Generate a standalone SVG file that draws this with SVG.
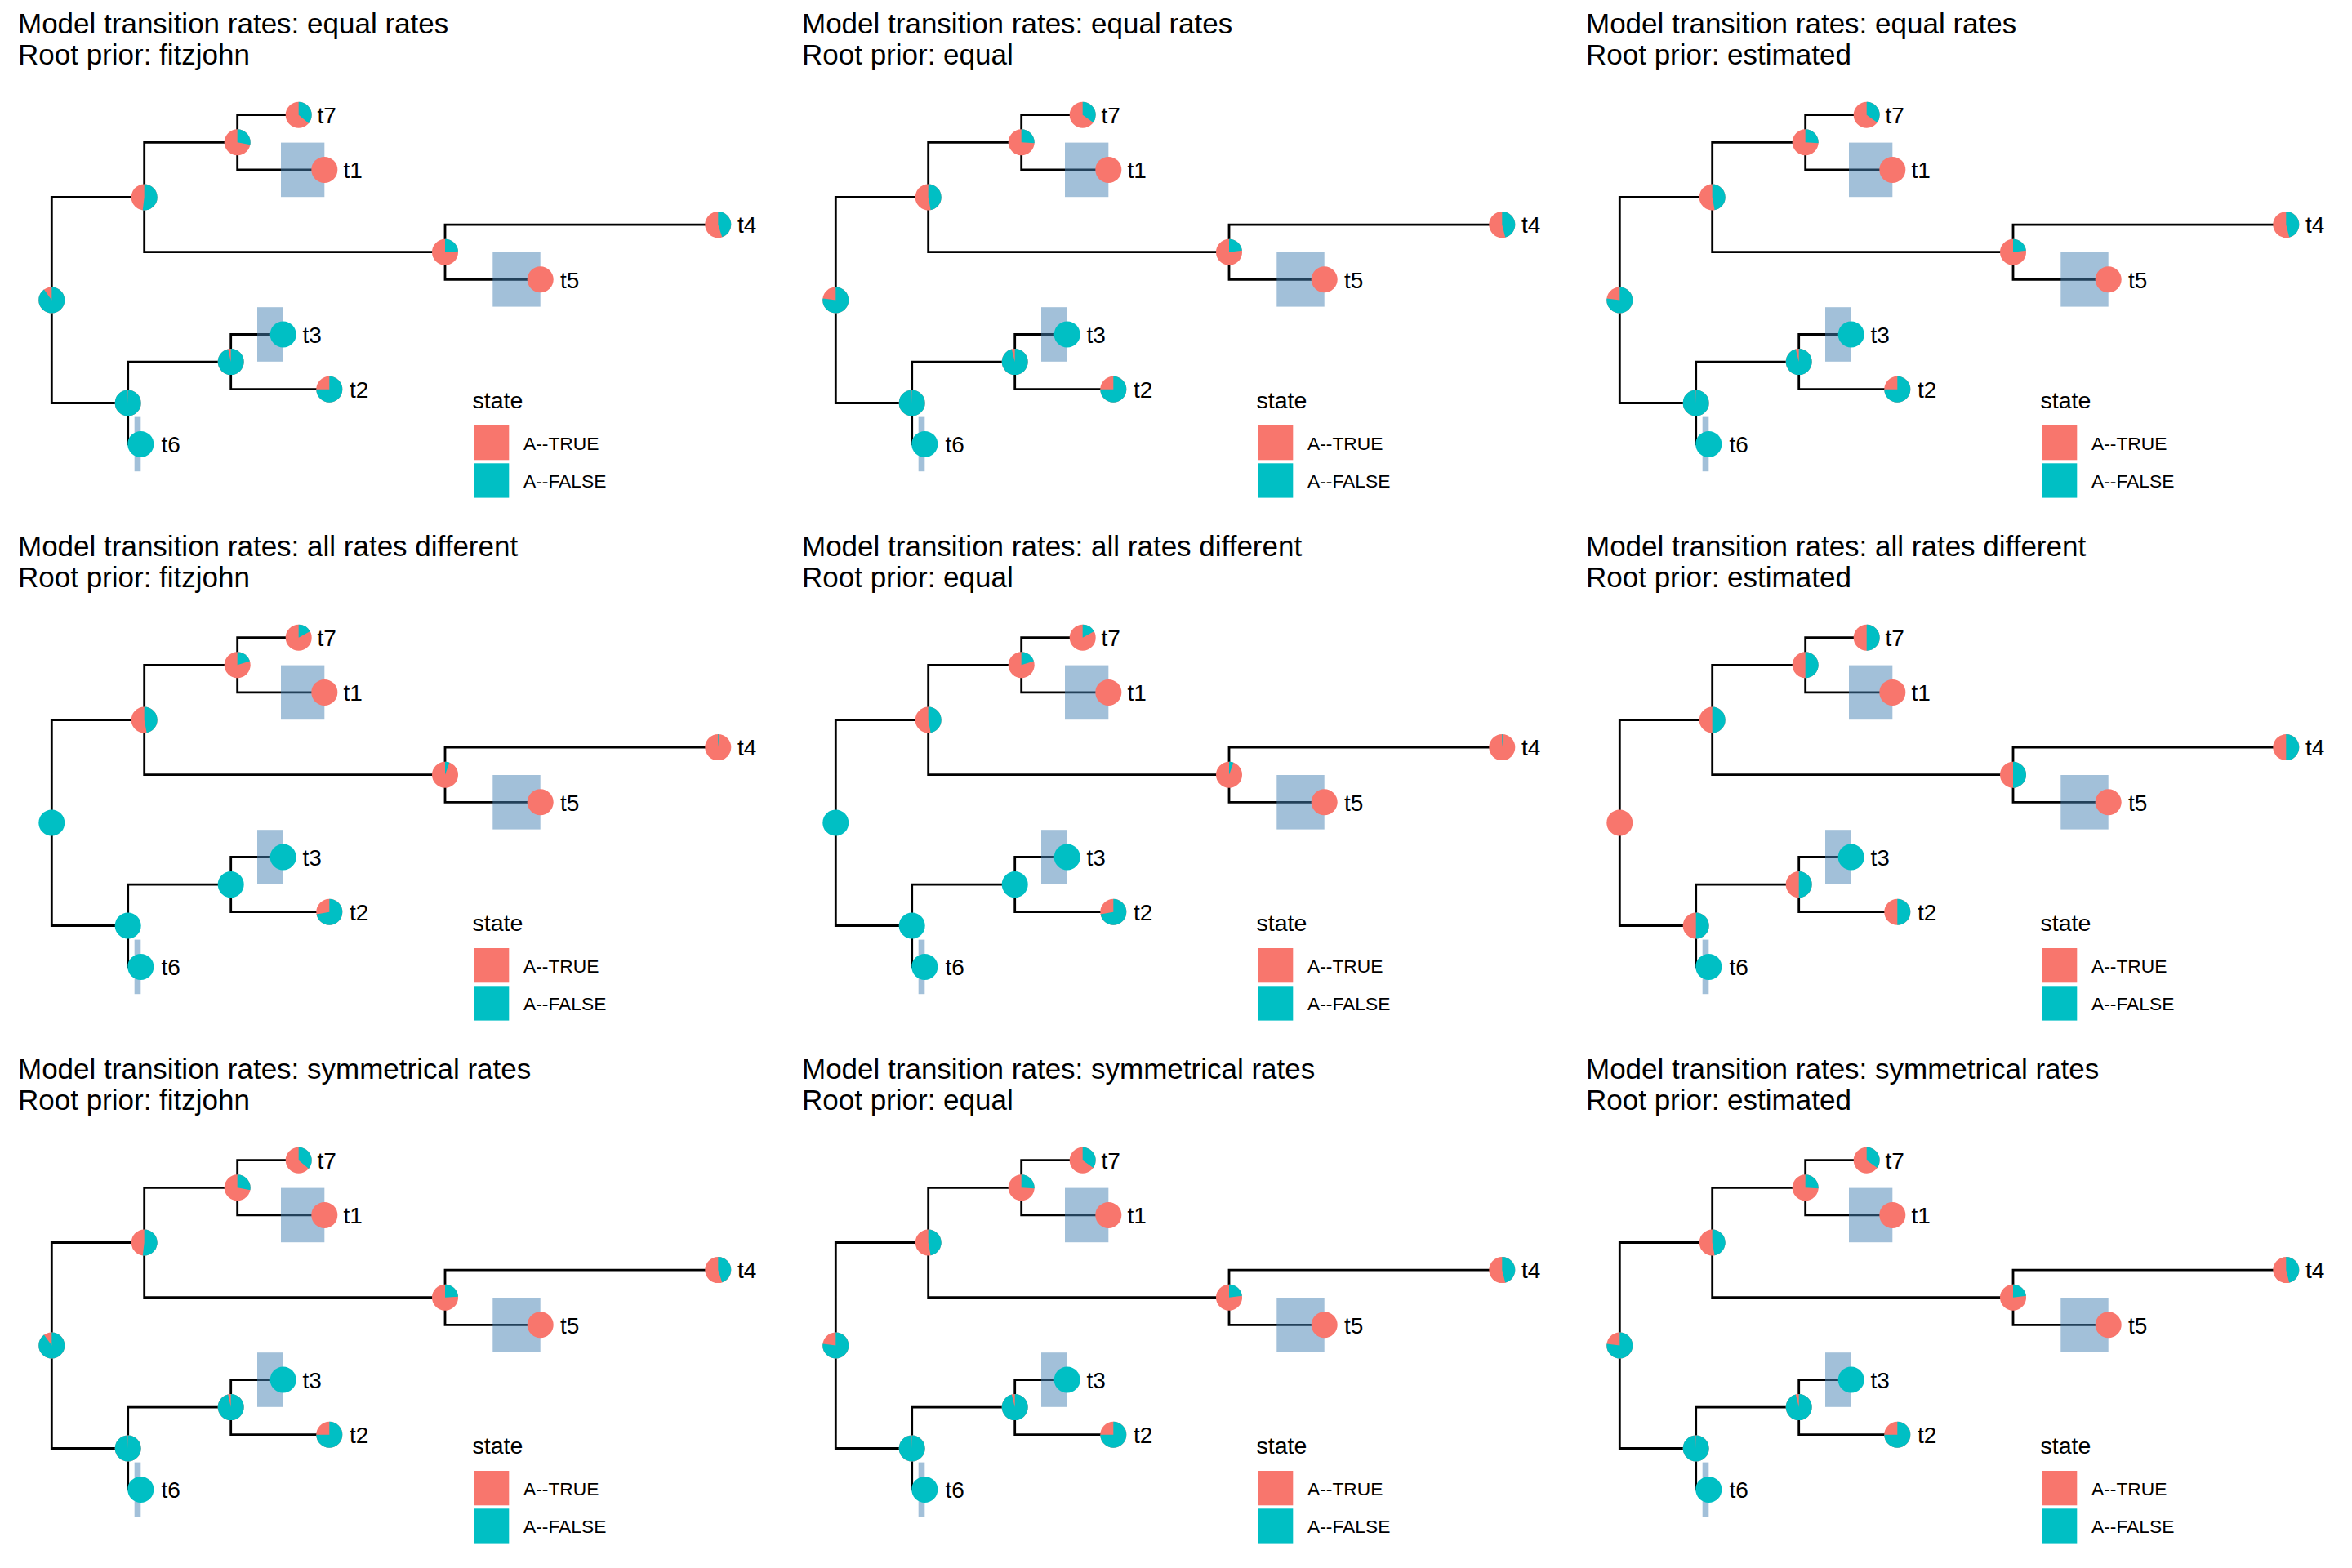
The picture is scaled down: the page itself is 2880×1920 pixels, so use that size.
<svg xmlns="http://www.w3.org/2000/svg" width="2880" height="1920" viewBox="0 0 2880 1920">
<style>
text{font-family:"Liberation Sans",Arial,Helvetica,sans-serif;fill:#000}
.ttl{font-size:35px}
.tip{font-size:28px}
.lgt{font-size:28.5px}
.lgl{font-size:22.8px}
.br{fill:none;stroke:#000;stroke-width:2.8}
.hl{fill:#4682B4;fill-opacity:0.5}
.pk{fill:#F8766D}
.tl{fill:#00BFC4}
.wd{fill:none;stroke:#00BFC4;stroke-width:16}
</style>
<rect width="2880" height="1920" fill="#fff"/>

<!-- Panel 1 -->
<g id="panel1" transform="translate(0,0)">
<text class="ttl" x="22" y="40.7">Model transition rates: equal rates</text>
<text class="ttl" x="22" y="79">Root prior: fitzjohn</text>
<g id="p1-edges"><path class="br" d="M176.7,241.5H63.3V493.5H156.7M290.7,174.3H176.7V308.7H545M365.7,140.7H290.7V207.9H397.3M879.3,275.1H545V342.3H661.7M282.7,443.1H156.7V543.9H172.3M346.7,409.5H282.7V476.7H403.3"/></g>
<g id="p1-hl"><rect class="hl" x="344" y="174.6" width="53.3" height="66.6"/><rect class="hl" x="603.3" y="309" width="58.4" height="66.6"/><rect class="hl" x="315" y="376.2" width="31.7" height="66.6"/><rect class="hl" x="164.7" y="510.6" width="7.6" height="66.6"/></g>
<g id="p1-R" transform="translate(63.3,367.5)"><circle class="pk" r="16"/><circle class="wd" r="8" pathLength="100" stroke-dasharray="90 100" transform="rotate(-90)"/></g>
<g id="p1-A" transform="translate(176.7,241.5)"><circle class="pk" r="16"/><circle class="wd" r="8" pathLength="100" stroke-dasharray="52 100" transform="rotate(-90)"/></g>
<g id="p1-C" transform="translate(290.7,174.3)"><circle class="pk" r="16"/><circle class="wd" r="8" pathLength="100" stroke-dasharray="28 100" transform="rotate(-90)"/></g>
<g id="p1-D" transform="translate(545,308.7)"><circle class="pk" r="16"/><circle class="wd" r="8" pathLength="100" stroke-dasharray="24 100" transform="rotate(-90)"/></g>
<g id="p1-B" transform="translate(156.7,493.5)"><circle class="pk" r="16"/><circle class="wd" r="8" pathLength="100" stroke-dasharray="99.5 100" transform="rotate(-90)"/></g>
<g id="p1-E" transform="translate(282.7,443.1)"><circle class="pk" r="16"/><circle class="wd" r="8" pathLength="100" stroke-dasharray="96.5 100" transform="rotate(-90)"/></g>
<g id="p1-t7"><g transform="translate(365.7,140.7)"><circle class="pk" r="16"/><circle class="wd" r="8" pathLength="100" stroke-dasharray="36 100" transform="rotate(-90)"/></g><text class="tip" x="388.5" y="151">t7</text></g>
<g id="p1-t1"><circle class="pk" cx="397.3" cy="207.9" r="16"/><text class="tip" x="420.5" y="218">t1</text></g>
<g id="p1-t4"><g transform="translate(879.3,275.1)"><circle class="pk" r="16"/><circle class="wd" r="8" pathLength="100" stroke-dasharray="45 100" transform="rotate(-90)"/></g><text class="tip" x="903" y="285.3">t4</text></g>
<g id="p1-t5"><circle class="pk" cx="661.7" cy="342.3" r="16"/><text class="tip" x="686" y="352.5">t5</text></g>
<g id="p1-t3"><circle class="tl" cx="346.7" cy="409.5" r="16"/><text class="tip" x="370.5" y="419.5">t3</text></g>
<g id="p1-t2"><g transform="translate(403.3,476.7)"><circle class="pk" r="16"/><circle class="wd" r="8" pathLength="100" stroke-dasharray="75 100" transform="rotate(-90)"/></g><text class="tip" x="428" y="486.8">t2</text></g>
<g id="p1-t6"><circle class="tl" cx="172.3" cy="543.9" r="16"/><text class="tip" x="197.5" y="554">t6</text></g>
<g id="p1-legend"><text class="lgt" x="578.5" y="500">state</text><rect class="pk" x="581" y="521" width="42.3" height="42.3"/><rect class="tl" x="581" y="567.3" width="42.3" height="42.3"/><text class="lgl" x="641" y="551">A--TRUE</text><text class="lgl" x="641" y="596.7">A--FALSE</text></g>
</g>

<!-- Panel 2 -->
<g id="panel2" transform="translate(960,0)">
<text class="ttl" x="22" y="40.7">Model transition rates: equal rates</text>
<text class="ttl" x="22" y="79">Root prior: equal</text>
<g id="p2-edges"><path class="br" d="M176.7,241.5H63.3V493.5H156.7M290.7,174.3H176.7V308.7H545M365.7,140.7H290.7V207.9H397.3M879.3,275.1H545V342.3H661.7M282.7,443.1H156.7V543.9H172.3M346.7,409.5H282.7V476.7H403.3"/></g>
<g id="p2-hl"><rect class="hl" x="344" y="174.6" width="53.3" height="66.6"/><rect class="hl" x="603.3" y="309" width="58.4" height="66.6"/><rect class="hl" x="315" y="376.2" width="31.7" height="66.6"/><rect class="hl" x="164.7" y="510.6" width="7.6" height="66.6"/></g>
<g id="p2-R" transform="translate(63.3,367.5)"><circle class="pk" r="16"/><circle class="wd" r="8" pathLength="100" stroke-dasharray="77 100" transform="rotate(-90)"/></g>
<g id="p2-A" transform="translate(176.7,241.5)"><circle class="pk" r="16"/><circle class="wd" r="8" pathLength="100" stroke-dasharray="47 100" transform="rotate(-90)"/></g>
<g id="p2-C" transform="translate(290.7,174.3)"><circle class="pk" r="16"/><circle class="wd" r="8" pathLength="100" stroke-dasharray="26 100" transform="rotate(-90)"/></g>
<g id="p2-D" transform="translate(545,308.7)"><circle class="pk" r="16"/><circle class="wd" r="8" pathLength="100" stroke-dasharray="23 100" transform="rotate(-90)"/></g>
<g id="p2-B" transform="translate(156.7,493.5)"><circle class="pk" r="16"/><circle class="wd" r="8" pathLength="100" stroke-dasharray="99.5 100" transform="rotate(-90)"/></g>
<g id="p2-E" transform="translate(282.7,443.1)"><circle class="pk" r="16"/><circle class="wd" r="8" pathLength="100" stroke-dasharray="96 100" transform="rotate(-90)"/></g>
<g id="p2-t7"><g transform="translate(365.7,140.7)"><circle class="pk" r="16"/><circle class="wd" r="8" pathLength="100" stroke-dasharray="35 100" transform="rotate(-90)"/></g><text class="tip" x="388.5" y="151">t7</text></g>
<g id="p2-t1"><circle class="pk" cx="397.3" cy="207.9" r="16"/><text class="tip" x="420.5" y="218">t1</text></g>
<g id="p2-t4"><g transform="translate(879.3,275.1)"><circle class="pk" r="16"/><circle class="wd" r="8" pathLength="100" stroke-dasharray="46 100" transform="rotate(-90)"/></g><text class="tip" x="903" y="285.3">t4</text></g>
<g id="p2-t5"><circle class="pk" cx="661.7" cy="342.3" r="16"/><text class="tip" x="686" y="352.5">t5</text></g>
<g id="p2-t3"><circle class="tl" cx="346.7" cy="409.5" r="16"/><text class="tip" x="370.5" y="419.5">t3</text></g>
<g id="p2-t2"><g transform="translate(403.3,476.7)"><circle class="pk" r="16"/><circle class="wd" r="8" pathLength="100" stroke-dasharray="75 100" transform="rotate(-90)"/></g><text class="tip" x="428" y="486.8">t2</text></g>
<g id="p2-t6"><circle class="tl" cx="172.3" cy="543.9" r="16"/><text class="tip" x="197.5" y="554">t6</text></g>
<g id="p2-legend"><text class="lgt" x="578.5" y="500">state</text><rect class="pk" x="581" y="521" width="42.3" height="42.3"/><rect class="tl" x="581" y="567.3" width="42.3" height="42.3"/><text class="lgl" x="641" y="551">A--TRUE</text><text class="lgl" x="641" y="596.7">A--FALSE</text></g>
</g>

<!-- Panel 3 -->
<g id="panel3" transform="translate(1920,0)">
<text class="ttl" x="22" y="40.7">Model transition rates: equal rates</text>
<text class="ttl" x="22" y="79">Root prior: estimated</text>
<g id="p3-edges"><path class="br" d="M176.7,241.5H63.3V493.5H156.7M290.7,174.3H176.7V308.7H545M365.7,140.7H290.7V207.9H397.3M879.3,275.1H545V342.3H661.7M282.7,443.1H156.7V543.9H172.3M346.7,409.5H282.7V476.7H403.3"/></g>
<g id="p3-hl"><rect class="hl" x="344" y="174.6" width="53.3" height="66.6"/><rect class="hl" x="603.3" y="309" width="58.4" height="66.6"/><rect class="hl" x="315" y="376.2" width="31.7" height="66.6"/><rect class="hl" x="164.7" y="510.6" width="7.6" height="66.6"/></g>
<g id="p3-R" transform="translate(63.3,367.5)"><circle class="pk" r="16"/><circle class="wd" r="8" pathLength="100" stroke-dasharray="77 100" transform="rotate(-90)"/></g>
<g id="p3-A" transform="translate(176.7,241.5)"><circle class="pk" r="16"/><circle class="wd" r="8" pathLength="100" stroke-dasharray="47 100" transform="rotate(-90)"/></g>
<g id="p3-C" transform="translate(290.7,174.3)"><circle class="pk" r="16"/><circle class="wd" r="8" pathLength="100" stroke-dasharray="26 100" transform="rotate(-90)"/></g>
<g id="p3-D" transform="translate(545,308.7)"><circle class="pk" r="16"/><circle class="wd" r="8" pathLength="100" stroke-dasharray="23 100" transform="rotate(-90)"/></g>
<g id="p3-B" transform="translate(156.7,493.5)"><circle class="pk" r="16"/><circle class="wd" r="8" pathLength="100" stroke-dasharray="99.5 100" transform="rotate(-90)"/></g>
<g id="p3-E" transform="translate(282.7,443.1)"><circle class="pk" r="16"/><circle class="wd" r="8" pathLength="100" stroke-dasharray="96 100" transform="rotate(-90)"/></g>
<g id="p3-t7"><g transform="translate(365.7,140.7)"><circle class="pk" r="16"/><circle class="wd" r="8" pathLength="100" stroke-dasharray="35 100" transform="rotate(-90)"/></g><text class="tip" x="388.5" y="151">t7</text></g>
<g id="p3-t1"><circle class="pk" cx="397.3" cy="207.9" r="16"/><text class="tip" x="420.5" y="218">t1</text></g>
<g id="p3-t4"><g transform="translate(879.3,275.1)"><circle class="pk" r="16"/><circle class="wd" r="8" pathLength="100" stroke-dasharray="46 100" transform="rotate(-90)"/></g><text class="tip" x="903" y="285.3">t4</text></g>
<g id="p3-t5"><circle class="pk" cx="661.7" cy="342.3" r="16"/><text class="tip" x="686" y="352.5">t5</text></g>
<g id="p3-t3"><circle class="tl" cx="346.7" cy="409.5" r="16"/><text class="tip" x="370.5" y="419.5">t3</text></g>
<g id="p3-t2"><g transform="translate(403.3,476.7)"><circle class="pk" r="16"/><circle class="wd" r="8" pathLength="100" stroke-dasharray="75 100" transform="rotate(-90)"/></g><text class="tip" x="428" y="486.8">t2</text></g>
<g id="p3-t6"><circle class="tl" cx="172.3" cy="543.9" r="16"/><text class="tip" x="197.5" y="554">t6</text></g>
<g id="p3-legend"><text class="lgt" x="578.5" y="500">state</text><rect class="pk" x="581" y="521" width="42.3" height="42.3"/><rect class="tl" x="581" y="567.3" width="42.3" height="42.3"/><text class="lgl" x="641" y="551">A--TRUE</text><text class="lgl" x="641" y="596.7">A--FALSE</text></g>
</g>

<!-- Panel 4 -->
<g id="panel4" transform="translate(0,640)">
<text class="ttl" x="22" y="40.7">Model transition rates: all rates different</text>
<text class="ttl" x="22" y="79">Root prior: fitzjohn</text>
<g id="p4-edges"><path class="br" d="M176.7,241.5H63.3V493.5H156.7M290.7,174.3H176.7V308.7H545M365.7,140.7H290.7V207.9H397.3M879.3,275.1H545V342.3H661.7M282.7,443.1H156.7V543.9H172.3M346.7,409.5H282.7V476.7H403.3"/></g>
<g id="p4-hl"><rect class="hl" x="344" y="174.6" width="53.3" height="66.6"/><rect class="hl" x="603.3" y="309" width="58.4" height="66.6"/><rect class="hl" x="315" y="376.2" width="31.7" height="66.6"/><rect class="hl" x="164.7" y="510.6" width="7.6" height="66.6"/></g>
<g id="p4-R"><circle class="tl" cx="63.3" cy="367.5" r="16"/></g>
<g id="p4-A" transform="translate(176.7,241.5)"><circle class="pk" r="16"/><circle class="wd" r="8" pathLength="100" stroke-dasharray="47 100" transform="rotate(-90)"/></g>
<g id="p4-C" transform="translate(290.7,174.3)"><circle class="pk" r="16"/><circle class="wd" r="8" pathLength="100" stroke-dasharray="20 100" transform="rotate(-90)"/></g>
<g id="p4-D" transform="translate(545,308.7)"><circle class="pk" r="16"/><circle class="wd" r="8" pathLength="100" stroke-dasharray="5.5 100" transform="rotate(-90)"/></g>
<g id="p4-B"><circle class="tl" cx="156.7" cy="493.5" r="16"/></g>
<g id="p4-E"><circle class="tl" cx="282.7" cy="443.1" r="16"/></g>
<g id="p4-t7"><g transform="translate(365.7,140.7)"><circle class="pk" r="16"/><circle class="wd" r="8" pathLength="100" stroke-dasharray="17 100" transform="rotate(-90)"/></g><text class="tip" x="388.5" y="151">t7</text></g>
<g id="p4-t1"><circle class="pk" cx="397.3" cy="207.9" r="16"/><text class="tip" x="420.5" y="218">t1</text></g>
<g id="p4-t4"><g transform="translate(879.3,275.1)"><circle class="pk" r="16"/><circle class="wd" r="8" pathLength="100" stroke-dasharray="1.8 100" transform="rotate(-90)"/></g><text class="tip" x="903" y="285.3">t4</text></g>
<g id="p4-t5"><circle class="pk" cx="661.7" cy="342.3" r="16"/><text class="tip" x="686" y="352.5">t5</text></g>
<g id="p4-t3"><circle class="tl" cx="346.7" cy="409.5" r="16"/><text class="tip" x="370.5" y="419.5">t3</text></g>
<g id="p4-t2"><g transform="translate(403.3,476.7)"><circle class="pk" r="16"/><circle class="wd" r="8" pathLength="100" stroke-dasharray="72 100" transform="rotate(-90)"/></g><text class="tip" x="428" y="486.8">t2</text></g>
<g id="p4-t6"><circle class="tl" cx="172.3" cy="543.9" r="16"/><text class="tip" x="197.5" y="554">t6</text></g>
<g id="p4-legend"><text class="lgt" x="578.5" y="500">state</text><rect class="pk" x="581" y="521" width="42.3" height="42.3"/><rect class="tl" x="581" y="567.3" width="42.3" height="42.3"/><text class="lgl" x="641" y="551">A--TRUE</text><text class="lgl" x="641" y="596.7">A--FALSE</text></g>
</g>

<!-- Panel 5 -->
<g id="panel5" transform="translate(960,640)">
<text class="ttl" x="22" y="40.7">Model transition rates: all rates different</text>
<text class="ttl" x="22" y="79">Root prior: equal</text>
<g id="p5-edges"><path class="br" d="M176.7,241.5H63.3V493.5H156.7M290.7,174.3H176.7V308.7H545M365.7,140.7H290.7V207.9H397.3M879.3,275.1H545V342.3H661.7M282.7,443.1H156.7V543.9H172.3M346.7,409.5H282.7V476.7H403.3"/></g>
<g id="p5-hl"><rect class="hl" x="344" y="174.6" width="53.3" height="66.6"/><rect class="hl" x="603.3" y="309" width="58.4" height="66.6"/><rect class="hl" x="315" y="376.2" width="31.7" height="66.6"/><rect class="hl" x="164.7" y="510.6" width="7.6" height="66.6"/></g>
<g id="p5-R"><circle class="tl" cx="63.3" cy="367.5" r="16"/></g>
<g id="p5-A" transform="translate(176.7,241.5)"><circle class="pk" r="16"/><circle class="wd" r="8" pathLength="100" stroke-dasharray="47 100" transform="rotate(-90)"/></g>
<g id="p5-C" transform="translate(290.7,174.3)"><circle class="pk" r="16"/><circle class="wd" r="8" pathLength="100" stroke-dasharray="20 100" transform="rotate(-90)"/></g>
<g id="p5-D" transform="translate(545,308.7)"><circle class="pk" r="16"/><circle class="wd" r="8" pathLength="100" stroke-dasharray="5.5 100" transform="rotate(-90)"/></g>
<g id="p5-B"><circle class="tl" cx="156.7" cy="493.5" r="16"/></g>
<g id="p5-E"><circle class="tl" cx="282.7" cy="443.1" r="16"/></g>
<g id="p5-t7"><g transform="translate(365.7,140.7)"><circle class="pk" r="16"/><circle class="wd" r="8" pathLength="100" stroke-dasharray="17 100" transform="rotate(-90)"/></g><text class="tip" x="388.5" y="151">t7</text></g>
<g id="p5-t1"><circle class="pk" cx="397.3" cy="207.9" r="16"/><text class="tip" x="420.5" y="218">t1</text></g>
<g id="p5-t4"><g transform="translate(879.3,275.1)"><circle class="pk" r="16"/><circle class="wd" r="8" pathLength="100" stroke-dasharray="1.8 100" transform="rotate(-90)"/></g><text class="tip" x="903" y="285.3">t4</text></g>
<g id="p5-t5"><circle class="pk" cx="661.7" cy="342.3" r="16"/><text class="tip" x="686" y="352.5">t5</text></g>
<g id="p5-t3"><circle class="tl" cx="346.7" cy="409.5" r="16"/><text class="tip" x="370.5" y="419.5">t3</text></g>
<g id="p5-t2"><g transform="translate(403.3,476.7)"><circle class="pk" r="16"/><circle class="wd" r="8" pathLength="100" stroke-dasharray="72 100" transform="rotate(-90)"/></g><text class="tip" x="428" y="486.8">t2</text></g>
<g id="p5-t6"><circle class="tl" cx="172.3" cy="543.9" r="16"/><text class="tip" x="197.5" y="554">t6</text></g>
<g id="p5-legend"><text class="lgt" x="578.5" y="500">state</text><rect class="pk" x="581" y="521" width="42.3" height="42.3"/><rect class="tl" x="581" y="567.3" width="42.3" height="42.3"/><text class="lgl" x="641" y="551">A--TRUE</text><text class="lgl" x="641" y="596.7">A--FALSE</text></g>
</g>

<!-- Panel 6 -->
<g id="panel6" transform="translate(1920,640)">
<text class="ttl" x="22" y="40.7">Model transition rates: all rates different</text>
<text class="ttl" x="22" y="79">Root prior: estimated</text>
<g id="p6-edges"><path class="br" d="M176.7,241.5H63.3V493.5H156.7M290.7,174.3H176.7V308.7H545M365.7,140.7H290.7V207.9H397.3M879.3,275.1H545V342.3H661.7M282.7,443.1H156.7V543.9H172.3M346.7,409.5H282.7V476.7H403.3"/></g>
<g id="p6-hl"><rect class="hl" x="344" y="174.6" width="53.3" height="66.6"/><rect class="hl" x="603.3" y="309" width="58.4" height="66.6"/><rect class="hl" x="315" y="376.2" width="31.7" height="66.6"/><rect class="hl" x="164.7" y="510.6" width="7.6" height="66.6"/></g>
<g id="p6-R"><circle class="pk" cx="63.3" cy="367.5" r="16"/></g>
<g id="p6-A" transform="translate(176.7,241.5)"><circle class="pk" r="16"/><circle class="wd" r="8" pathLength="100" stroke-dasharray="50 100" transform="rotate(-90)"/></g>
<g id="p6-C" transform="translate(290.7,174.3)"><circle class="pk" r="16"/><circle class="wd" r="8" pathLength="100" stroke-dasharray="50 100" transform="rotate(-90)"/></g>
<g id="p6-D" transform="translate(545,308.7)"><circle class="pk" r="16"/><circle class="wd" r="8" pathLength="100" stroke-dasharray="50 100" transform="rotate(-90)"/></g>
<g id="p6-B" transform="translate(156.7,493.5)"><circle class="pk" r="16"/><circle class="wd" r="8" pathLength="100" stroke-dasharray="50 100" transform="rotate(-90)"/></g>
<g id="p6-E" transform="translate(282.7,443.1)"><circle class="pk" r="16"/><circle class="wd" r="8" pathLength="100" stroke-dasharray="50 100" transform="rotate(-90)"/></g>
<g id="p6-t7"><g transform="translate(365.7,140.7)"><circle class="pk" r="16"/><circle class="wd" r="8" pathLength="100" stroke-dasharray="50 100" transform="rotate(-90)"/></g><text class="tip" x="388.5" y="151">t7</text></g>
<g id="p6-t1"><circle class="pk" cx="397.3" cy="207.9" r="16"/><text class="tip" x="420.5" y="218">t1</text></g>
<g id="p6-t4"><g transform="translate(879.3,275.1)"><circle class="pk" r="16"/><circle class="wd" r="8" pathLength="100" stroke-dasharray="50 100" transform="rotate(-90)"/></g><text class="tip" x="903" y="285.3">t4</text></g>
<g id="p6-t5"><circle class="pk" cx="661.7" cy="342.3" r="16"/><text class="tip" x="686" y="352.5">t5</text></g>
<g id="p6-t3"><circle class="tl" cx="346.7" cy="409.5" r="16"/><text class="tip" x="370.5" y="419.5">t3</text></g>
<g id="p6-t2"><g transform="translate(403.3,476.7)"><circle class="pk" r="16"/><circle class="wd" r="8" pathLength="100" stroke-dasharray="50 100" transform="rotate(-90)"/></g><text class="tip" x="428" y="486.8">t2</text></g>
<g id="p6-t6"><circle class="tl" cx="172.3" cy="543.9" r="16"/><text class="tip" x="197.5" y="554">t6</text></g>
<g id="p6-legend"><text class="lgt" x="578.5" y="500">state</text><rect class="pk" x="581" y="521" width="42.3" height="42.3"/><rect class="tl" x="581" y="567.3" width="42.3" height="42.3"/><text class="lgl" x="641" y="551">A--TRUE</text><text class="lgl" x="641" y="596.7">A--FALSE</text></g>
</g>

<!-- Panel 7 -->
<g id="panel7" transform="translate(0,1280)">
<text class="ttl" x="22" y="40.7">Model transition rates: symmetrical rates</text>
<text class="ttl" x="22" y="79">Root prior: fitzjohn</text>
<g id="p7-edges"><path class="br" d="M176.7,241.5H63.3V493.5H156.7M290.7,174.3H176.7V308.7H545M365.7,140.7H290.7V207.9H397.3M879.3,275.1H545V342.3H661.7M282.7,443.1H156.7V543.9H172.3M346.7,409.5H282.7V476.7H403.3"/></g>
<g id="p7-hl"><rect class="hl" x="344" y="174.6" width="53.3" height="66.6"/><rect class="hl" x="603.3" y="309" width="58.4" height="66.6"/><rect class="hl" x="315" y="376.2" width="31.7" height="66.6"/><rect class="hl" x="164.7" y="510.6" width="7.6" height="66.6"/></g>
<g id="p7-R" transform="translate(63.3,367.5)"><circle class="pk" r="16"/><circle class="wd" r="8" pathLength="100" stroke-dasharray="90 100" transform="rotate(-90)"/></g>
<g id="p7-A" transform="translate(176.7,241.5)"><circle class="pk" r="16"/><circle class="wd" r="8" pathLength="100" stroke-dasharray="52 100" transform="rotate(-90)"/></g>
<g id="p7-C" transform="translate(290.7,174.3)"><circle class="pk" r="16"/><circle class="wd" r="8" pathLength="100" stroke-dasharray="28 100" transform="rotate(-90)"/></g>
<g id="p7-D" transform="translate(545,308.7)"><circle class="pk" r="16"/><circle class="wd" r="8" pathLength="100" stroke-dasharray="24 100" transform="rotate(-90)"/></g>
<g id="p7-B" transform="translate(156.7,493.5)"><circle class="pk" r="16"/><circle class="wd" r="8" pathLength="100" stroke-dasharray="99.5 100" transform="rotate(-90)"/></g>
<g id="p7-E" transform="translate(282.7,443.1)"><circle class="pk" r="16"/><circle class="wd" r="8" pathLength="100" stroke-dasharray="96.5 100" transform="rotate(-90)"/></g>
<g id="p7-t7"><g transform="translate(365.7,140.7)"><circle class="pk" r="16"/><circle class="wd" r="8" pathLength="100" stroke-dasharray="36 100" transform="rotate(-90)"/></g><text class="tip" x="388.5" y="151">t7</text></g>
<g id="p7-t1"><circle class="pk" cx="397.3" cy="207.9" r="16"/><text class="tip" x="420.5" y="218">t1</text></g>
<g id="p7-t4"><g transform="translate(879.3,275.1)"><circle class="pk" r="16"/><circle class="wd" r="8" pathLength="100" stroke-dasharray="45 100" transform="rotate(-90)"/></g><text class="tip" x="903" y="285.3">t4</text></g>
<g id="p7-t5"><circle class="pk" cx="661.7" cy="342.3" r="16"/><text class="tip" x="686" y="352.5">t5</text></g>
<g id="p7-t3"><circle class="tl" cx="346.7" cy="409.5" r="16"/><text class="tip" x="370.5" y="419.5">t3</text></g>
<g id="p7-t2"><g transform="translate(403.3,476.7)"><circle class="pk" r="16"/><circle class="wd" r="8" pathLength="100" stroke-dasharray="75 100" transform="rotate(-90)"/></g><text class="tip" x="428" y="486.8">t2</text></g>
<g id="p7-t6"><circle class="tl" cx="172.3" cy="543.9" r="16"/><text class="tip" x="197.5" y="554">t6</text></g>
<g id="p7-legend"><text class="lgt" x="578.5" y="500">state</text><rect class="pk" x="581" y="521" width="42.3" height="42.3"/><rect class="tl" x="581" y="567.3" width="42.3" height="42.3"/><text class="lgl" x="641" y="551">A--TRUE</text><text class="lgl" x="641" y="596.7">A--FALSE</text></g>
</g>

<!-- Panel 8 -->
<g id="panel8" transform="translate(960,1280)">
<text class="ttl" x="22" y="40.7">Model transition rates: symmetrical rates</text>
<text class="ttl" x="22" y="79">Root prior: equal</text>
<g id="p8-edges"><path class="br" d="M176.7,241.5H63.3V493.5H156.7M290.7,174.3H176.7V308.7H545M365.7,140.7H290.7V207.9H397.3M879.3,275.1H545V342.3H661.7M282.7,443.1H156.7V543.9H172.3M346.7,409.5H282.7V476.7H403.3"/></g>
<g id="p8-hl"><rect class="hl" x="344" y="174.6" width="53.3" height="66.6"/><rect class="hl" x="603.3" y="309" width="58.4" height="66.6"/><rect class="hl" x="315" y="376.2" width="31.7" height="66.6"/><rect class="hl" x="164.7" y="510.6" width="7.6" height="66.6"/></g>
<g id="p8-R" transform="translate(63.3,367.5)"><circle class="pk" r="16"/><circle class="wd" r="8" pathLength="100" stroke-dasharray="77 100" transform="rotate(-90)"/></g>
<g id="p8-A" transform="translate(176.7,241.5)"><circle class="pk" r="16"/><circle class="wd" r="8" pathLength="100" stroke-dasharray="47 100" transform="rotate(-90)"/></g>
<g id="p8-C" transform="translate(290.7,174.3)"><circle class="pk" r="16"/><circle class="wd" r="8" pathLength="100" stroke-dasharray="26 100" transform="rotate(-90)"/></g>
<g id="p8-D" transform="translate(545,308.7)"><circle class="pk" r="16"/><circle class="wd" r="8" pathLength="100" stroke-dasharray="23 100" transform="rotate(-90)"/></g>
<g id="p8-B" transform="translate(156.7,493.5)"><circle class="pk" r="16"/><circle class="wd" r="8" pathLength="100" stroke-dasharray="99.5 100" transform="rotate(-90)"/></g>
<g id="p8-E" transform="translate(282.7,443.1)"><circle class="pk" r="16"/><circle class="wd" r="8" pathLength="100" stroke-dasharray="96 100" transform="rotate(-90)"/></g>
<g id="p8-t7"><g transform="translate(365.7,140.7)"><circle class="pk" r="16"/><circle class="wd" r="8" pathLength="100" stroke-dasharray="35 100" transform="rotate(-90)"/></g><text class="tip" x="388.5" y="151">t7</text></g>
<g id="p8-t1"><circle class="pk" cx="397.3" cy="207.9" r="16"/><text class="tip" x="420.5" y="218">t1</text></g>
<g id="p8-t4"><g transform="translate(879.3,275.1)"><circle class="pk" r="16"/><circle class="wd" r="8" pathLength="100" stroke-dasharray="46 100" transform="rotate(-90)"/></g><text class="tip" x="903" y="285.3">t4</text></g>
<g id="p8-t5"><circle class="pk" cx="661.7" cy="342.3" r="16"/><text class="tip" x="686" y="352.5">t5</text></g>
<g id="p8-t3"><circle class="tl" cx="346.7" cy="409.5" r="16"/><text class="tip" x="370.5" y="419.5">t3</text></g>
<g id="p8-t2"><g transform="translate(403.3,476.7)"><circle class="pk" r="16"/><circle class="wd" r="8" pathLength="100" stroke-dasharray="75 100" transform="rotate(-90)"/></g><text class="tip" x="428" y="486.8">t2</text></g>
<g id="p8-t6"><circle class="tl" cx="172.3" cy="543.9" r="16"/><text class="tip" x="197.5" y="554">t6</text></g>
<g id="p8-legend"><text class="lgt" x="578.5" y="500">state</text><rect class="pk" x="581" y="521" width="42.3" height="42.3"/><rect class="tl" x="581" y="567.3" width="42.3" height="42.3"/><text class="lgl" x="641" y="551">A--TRUE</text><text class="lgl" x="641" y="596.7">A--FALSE</text></g>
</g>

<!-- Panel 9 -->
<g id="panel9" transform="translate(1920,1280)">
<text class="ttl" x="22" y="40.7">Model transition rates: symmetrical rates</text>
<text class="ttl" x="22" y="79">Root prior: estimated</text>
<g id="p9-edges"><path class="br" d="M176.7,241.5H63.3V493.5H156.7M290.7,174.3H176.7V308.7H545M365.7,140.7H290.7V207.9H397.3M879.3,275.1H545V342.3H661.7M282.7,443.1H156.7V543.9H172.3M346.7,409.5H282.7V476.7H403.3"/></g>
<g id="p9-hl"><rect class="hl" x="344" y="174.6" width="53.3" height="66.6"/><rect class="hl" x="603.3" y="309" width="58.4" height="66.6"/><rect class="hl" x="315" y="376.2" width="31.7" height="66.6"/><rect class="hl" x="164.7" y="510.6" width="7.6" height="66.6"/></g>
<g id="p9-R" transform="translate(63.3,367.5)"><circle class="pk" r="16"/><circle class="wd" r="8" pathLength="100" stroke-dasharray="77 100" transform="rotate(-90)"/></g>
<g id="p9-A" transform="translate(176.7,241.5)"><circle class="pk" r="16"/><circle class="wd" r="8" pathLength="100" stroke-dasharray="47 100" transform="rotate(-90)"/></g>
<g id="p9-C" transform="translate(290.7,174.3)"><circle class="pk" r="16"/><circle class="wd" r="8" pathLength="100" stroke-dasharray="26 100" transform="rotate(-90)"/></g>
<g id="p9-D" transform="translate(545,308.7)"><circle class="pk" r="16"/><circle class="wd" r="8" pathLength="100" stroke-dasharray="23 100" transform="rotate(-90)"/></g>
<g id="p9-B" transform="translate(156.7,493.5)"><circle class="pk" r="16"/><circle class="wd" r="8" pathLength="100" stroke-dasharray="99.5 100" transform="rotate(-90)"/></g>
<g id="p9-E" transform="translate(282.7,443.1)"><circle class="pk" r="16"/><circle class="wd" r="8" pathLength="100" stroke-dasharray="96 100" transform="rotate(-90)"/></g>
<g id="p9-t7"><g transform="translate(365.7,140.7)"><circle class="pk" r="16"/><circle class="wd" r="8" pathLength="100" stroke-dasharray="35 100" transform="rotate(-90)"/></g><text class="tip" x="388.5" y="151">t7</text></g>
<g id="p9-t1"><circle class="pk" cx="397.3" cy="207.9" r="16"/><text class="tip" x="420.5" y="218">t1</text></g>
<g id="p9-t4"><g transform="translate(879.3,275.1)"><circle class="pk" r="16"/><circle class="wd" r="8" pathLength="100" stroke-dasharray="46 100" transform="rotate(-90)"/></g><text class="tip" x="903" y="285.3">t4</text></g>
<g id="p9-t5"><circle class="pk" cx="661.7" cy="342.3" r="16"/><text class="tip" x="686" y="352.5">t5</text></g>
<g id="p9-t3"><circle class="tl" cx="346.7" cy="409.5" r="16"/><text class="tip" x="370.5" y="419.5">t3</text></g>
<g id="p9-t2"><g transform="translate(403.3,476.7)"><circle class="pk" r="16"/><circle class="wd" r="8" pathLength="100" stroke-dasharray="75 100" transform="rotate(-90)"/></g><text class="tip" x="428" y="486.8">t2</text></g>
<g id="p9-t6"><circle class="tl" cx="172.3" cy="543.9" r="16"/><text class="tip" x="197.5" y="554">t6</text></g>
<g id="p9-legend"><text class="lgt" x="578.5" y="500">state</text><rect class="pk" x="581" y="521" width="42.3" height="42.3"/><rect class="tl" x="581" y="567.3" width="42.3" height="42.3"/><text class="lgl" x="641" y="551">A--TRUE</text><text class="lgl" x="641" y="596.7">A--FALSE</text></g>
</g>
</svg>
